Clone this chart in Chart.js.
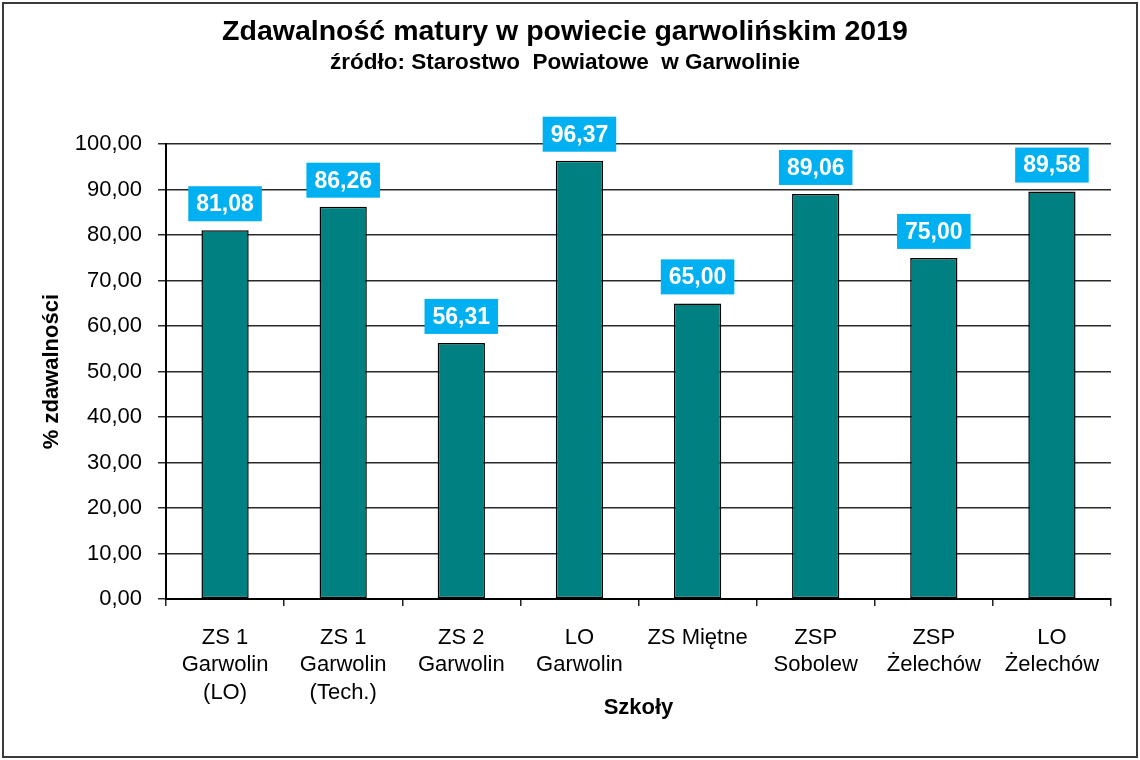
<!DOCTYPE html>
<html>
<head>
<meta charset="utf-8">
<script src="https://cdn.jsdelivr.net/npm/chart.js@4.4.1/dist/chart.umd.min.js"></script>
<style>
  html, body { margin: 0; padding: 0; background: #fff; }
  #wrap { width: 1140px; height: 760px; position: relative; }
</style>
</head>
<body>
<div id="wrap"><canvas id="c" width="1140" height="760"></canvas></div>
<script>
const categories = [
  ["ZS 1", "Garwolin", "(LO)"],
  ["ZS 1", "Garwolin", "(Tech.)"],
  ["ZS 2", "Garwolin"],
  ["LO", "Garwolin"],
  "ZS Miętne",
  ["ZSP", "Sobolew"],
  ["ZSP", "Żelechów"],
  ["LO", "Żelechów"]
];
const passRates = [81.08, 86.26, 56.31, 96.37, 65.00, 89.06, 75.00, 89.58];
const yTickStep = 10;
const yMax = 100;

const FONT = "'Liberation Sans', Arial, sans-serif";
const fmt = v => v.toFixed(2).replace('.', ',');

const frame = {
  id: 'frame',
  afterDraw(chart) {
    const ctx = chart.ctx;
    ctx.save();
    ctx.strokeStyle = '#3a3a3a';
    ctx.lineWidth = 2;
    ctx.strokeRect(3, 3, chart.width - 6, chart.height - 6);
    ctx.restore();
  }
};

const valueBoxes = {
  id: 'valueBoxes',
  afterDatasetsDraw(chart) {
    const ctx = chart.ctx;
    const meta = chart.getDatasetMeta(0);
    ctx.save();
    ctx.font = "bold 23px " + FONT;
    ctx.textAlign = 'center';
    ctx.textBaseline = 'middle';
    meta.data.forEach((bar, i) => {
      const txt = fmt(chart.data.datasets[0].data[i]);
      const w = ctx.measureText(txt).width + 16;
      const h = 35;
      const bottom = bar.y - 9;
      ctx.fillStyle = '#00B0F0';
      ctx.fillRect(bar.x - w / 2, bottom - h, w, h);
      ctx.fillStyle = '#ffffff';
      ctx.fillText(txt, bar.x, bottom - h / 2 + 1);
    });
    ctx.restore();
  }
};

new Chart(document.getElementById('c'), {
  type: 'bar',
  data: {
    labels: categories,
    datasets: [{
      data: passRates,
      backgroundColor: '#008080',
      borderColor: '#000000',
      borderWidth: 1.5,
      borderSkipped: false,
      barPercentage: 0.4,
      categoryPercentage: 1.0
    }]
  },
  options: {
    responsive: false,
    animation: false,
    devicePixelRatio: 1,
    layout: { padding: { left: 19, right: 29, top: 0, bottom: 0 } },
    plugins: {
      legend: { display: false },
      tooltip: { enabled: false },
      title: {
        display: true,
        text: 'Zdawalność matury w powiecie garwolińskim 2019',
        color: '#000',
        font: { family: FONT, size: 28.5, weight: 'bold' },
        padding: { top: 15, bottom: 0 }
      },
      subtitle: {
        display: true,
        text: 'źródło: Starostwo  Powiatowe  w Garwolinie',
        color: '#000',
        font: { family: FONT, size: 22.5, weight: 'bold' },
        padding: { top: 0, bottom: 68 }
      }
    },
    scales: {
      x: {
        offset: true,
        afterFit(scale) { scale.height = 161; },
        grid: {
          display: true,
          drawOnChartArea: false,
          drawTicks: true,
          tickLength: 7,
          color: '#222',
          lineWidth: 1.5,
          offset: true
        },
        border: { display: true, color: '#000', width: 2 },
        ticks: {
          color: '#000',
          font: { family: FONT, size: 22, lineHeight: 1.25 },
          padding: 18,
          maxRotation: 0,
          autoSkip: false
        },
        title: {
          display: true,
          text: 'Szkoły',
          color: '#000',
          font: { family: FONT, size: 22, weight: 'bold' },
          padding: 39
        }
      },
      y: {
        min: 0,
        max: yMax,
        afterFit(scale) { scale.width = 147; },
        grid: {
          color: '#2a2a2a',
          lineWidth: 1.5,
          drawTicks: true,
          tickLength: 8
        },
        border: { display: true, color: '#000', width: 2 },
        ticks: {
          stepSize: yTickStep,
          color: '#000',
          font: { family: FONT, size: 22 },
          padding: 16,
          callback: v => fmt(v)
        },
        title: {
          display: true,
          text: '% zdawalności',
          color: '#000',
          font: { family: FONT, size: 22, weight: 'bold' },
          padding: 20
        }
      }
    }
  },
  plugins: [valueBoxes, frame]
});
</script>
</body>
</html>
